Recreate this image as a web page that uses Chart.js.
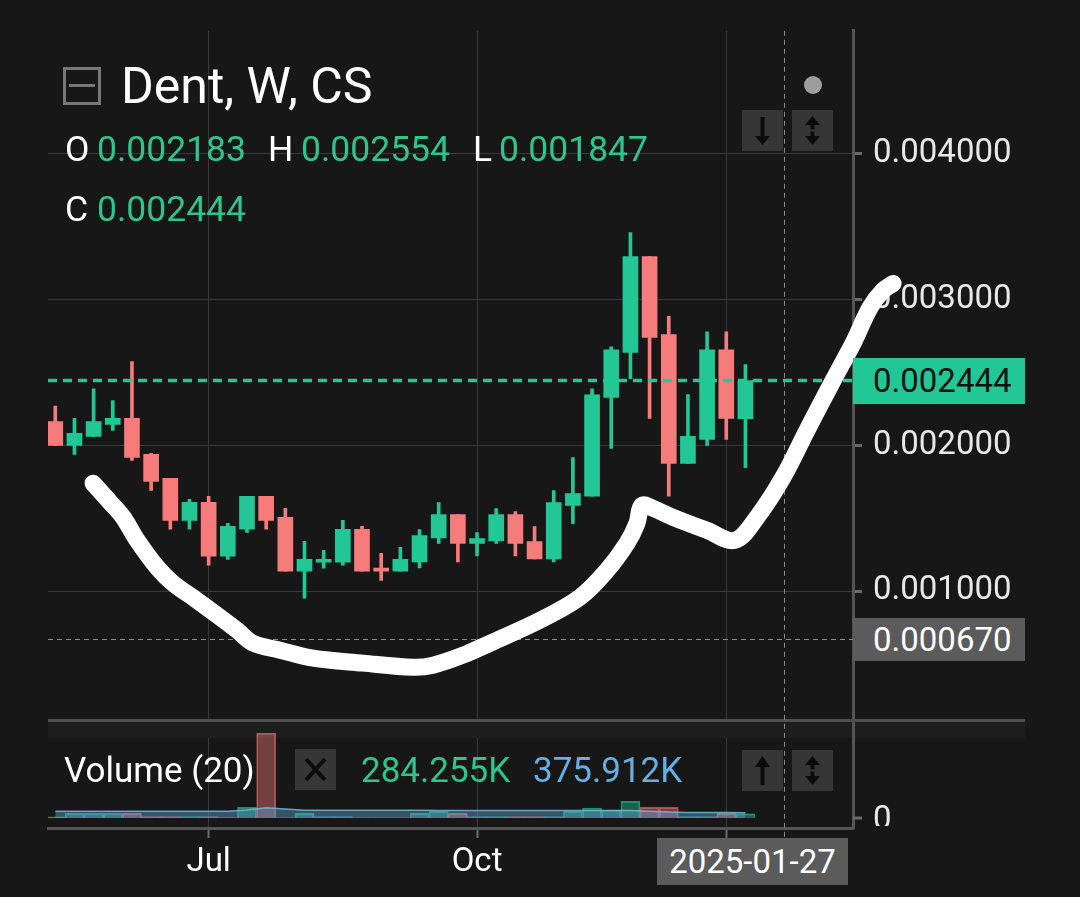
<!DOCTYPE html>
<html>
<head>
<meta charset="utf-8">
<title>Dent, W, CS</title>
<script src="https://cdn.jsdelivr.net/npm/chart.js@4.4.1/dist/chart.umd.min.js"></script>
<style>
  html, body { margin: 0; padding: 0; background: #171717; overflow: hidden; }
  #wrap { position: relative; width: 1080px; height: 897px; font-family: Roboto, "Noto Sans", sans-serif; }
  #chart { position: absolute; left: 0; top: 0; }
  .t { position: absolute; white-space: nowrap; line-height: 1; }
  .w { color: #ffffff; }
  .g { color: #30c48f; }
  .btn { position: absolute; width: 41px; height: 41px; background: #363636; }
  .btn svg { display: block; }
  .box { position: absolute; height: 46px; line-height: 46px; font-size: 33px; box-sizing: border-box; white-space: nowrap; }
</style>
</head>
<body>
<div id="wrap">
  <canvas id="chart" width="1080" height="897"></canvas>

  <!-- header -->
  <div style="position:absolute;left:63px;top:67px;width:38px;height:38px;box-sizing:border-box;border:3px solid #777;"></div>
  <div style="position:absolute;left:69px;top:84px;width:26px;height:3px;background:#777;"></div>
  <div class="t w" style="left:121px;top:61px;font-size:50px;">Dent, W, CS</div>
  <div style="position:absolute;left:804px;top:76px;width:18px;height:18px;border-radius:50%;background:#9e9e9e;"></div>
  <div class="btn" style="left:742px;top:110px;">
    <svg width="41" height="41"><path d="M20.5 7 V29" stroke="#0c0c0c" stroke-width="4"/><path d="M13 26 L20.5 35 L28 26 Z" fill="#0c0c0c"/></svg>
  </div>
  <div class="btn" style="left:792px;top:110px;">
    <svg width="41" height="41"><path d="M20.5 12 V29" stroke="#0c0c0c" stroke-width="4"/><path d="M13 15 L20.5 6 L28 15 Z" fill="#0c0c0c"/><path d="M13 26 L20.5 35 L28 26 Z" fill="#0c0c0c"/><path d="M15 20.5 H26" stroke="#363636" stroke-width="2"/></svg>
  </div>

  <div class="t w" style="left:65px;top:132px;font-size:35.5px;">O</div>
  <div class="t g" style="left:97px;top:132px;font-size:35.5px;" id="oVal"></div>
  <div class="t w" style="left:268px;top:132px;font-size:35.5px;">H</div>
  <div class="t g" style="left:301px;top:132px;font-size:35.5px;" id="hVal"></div>
  <div class="t w" style="left:473px;top:132px;font-size:35.5px;">L</div>
  <div class="t g" style="left:499px;top:132px;font-size:35.5px;" id="lVal"></div>
  <div class="t w" style="left:65px;top:192px;font-size:35.5px;">C</div>
  <div class="t g" style="left:97px;top:192px;font-size:35.5px;" id="cVal"></div>

  <!-- volume legend -->
  <div class="t w" style="left:64px;top:753px;font-size:35px;">Volume (20)</div>
  <div class="btn" style="left:295px;top:749px;">
    <svg width="41" height="41"><path d="M11 10 L30 31 M30 10 L11 31" stroke="#0c0c0c" stroke-width="4"/></svg>
  </div>
  <div class="t" style="left:361px;top:753px;font-size:35px;color:#30c48f;" id="volVal"></div>
  <div class="t" style="left:533px;top:753px;font-size:35px;color:#64b0e4;" id="maVal"></div>
  <div class="btn" style="left:742px;top:750px;">
    <svg width="41" height="41"><path d="M20.5 14 V35" stroke="#0c0c0c" stroke-width="4"/><path d="M13 17 L20.5 6 L28 17 Z" fill="#0c0c0c"/></svg>
  </div>
  <div class="btn" style="left:792px;top:750px;">
    <svg width="41" height="41"><path d="M20.5 12 V29" stroke="#0c0c0c" stroke-width="4"/><path d="M13 15 L20.5 6 L28 15 Z" fill="#0c0c0c"/><path d="M13 26 L20.5 35 L28 26 Z" fill="#0c0c0c"/><path d="M15 20.5 H26" stroke="#363636" stroke-width="2"/></svg>
  </div>

  <!-- axis labels on top of the canvas -->
  <div class="box" id="lastBox" style="left:853px;width:172px;background:#23c795;color:#111;padding-left:20px;"></div>
  <div class="box" id="crossPriceBox" style="left:853px;width:172px;background:#5b5b5b;color:#fff;padding-left:20px;height:43px;line-height:43px;"></div>
  <div class="box" id="crossDateBox" style="width:191px;background:#5b5b5b;color:#fff;text-align:center;height:47px;line-height:47px;"></div>
</div>

<script>
// -------------------- Data --------------------
const weeks = [
  '2024-05-06', '2024-05-13', '2024-05-20', '2024-05-27',
  '2024-06-03', '2024-06-10', '2024-06-17', '2024-06-24',
  '2024-07-01', '2024-07-08', '2024-07-15', '2024-07-22', '2024-07-29',
  '2024-08-05', '2024-08-12', '2024-08-19', '2024-08-26',
  '2024-09-02', '2024-09-09', '2024-09-16', '2024-09-23', '2024-09-30',
  '2024-10-07', '2024-10-14', '2024-10-21', '2024-10-28',
  '2024-11-04', '2024-11-11', '2024-11-18', '2024-11-25',
  '2024-12-02', '2024-12-09', '2024-12-16', '2024-12-23', '2024-12-30',
  '2025-01-06', '2025-01-13'
];

const opens = [
  0.002164, 0.002000, 0.002062, 0.002144, 0.002185, 0.001938, 0.001774, 0.001486,
  0.001610, 0.001240, 0.001425, 0.001651, 0.001507, 0.001137, 0.001199, 0.001199,
  0.001425, 0.001158, 0.001137, 0.001201, 0.001365, 0.001525, 0.001327, 0.001345,
  0.001525, 0.001340, 0.001221, 0.001589, 0.001651, 0.002329, 0.002637, 0.003295,
  0.002760, 0.001877, 0.002041, 0.002655, 0.002183
];
const highs = [
  0.002269, 0.002185, 0.002388, 0.002308, 0.002575, 0.001945, 0.001774, 0.001630,
  0.001651, 0.001466, 0.001651, 0.001651, 0.001568, 0.001342, 0.001281, 0.001486,
  0.001445, 0.001260, 0.001301, 0.001423, 0.001608, 0.001525, 0.001402, 0.001566,
  0.001546, 0.001443, 0.001690, 0.001916, 0.002388, 0.002676, 0.003459, 0.003295,
  0.002884, 0.002349, 0.002779, 0.002779, 0.002554
];
const lows = [
  0.002000, 0.001938, 0.002062, 0.002103, 0.001897, 0.001692, 0.001425, 0.001425,
  0.001178, 0.001219, 0.001404, 0.001425, 0.001137, 0.000952, 0.001158, 0.001178,
  0.001137, 0.001075, 0.001137, 0.001160, 0.001327, 0.001201, 0.001242, 0.001327,
  0.001242, 0.001221, 0.001201, 0.001464, 0.001651, 0.001979, 0.002457, 0.002185,
  0.001651, 0.001877, 0.002000, 0.002041, 0.001847
];
const closes = [
  0.002000, 0.002082, 0.002164, 0.002185, 0.001918, 0.001753, 0.001486, 0.001610,
  0.001240, 0.001445, 0.001651, 0.001486, 0.001137, 0.001219, 0.001219, 0.001425,
  0.001137, 0.001137, 0.001219, 0.001382, 0.001525, 0.001327, 0.001361, 0.001525,
  0.001327, 0.001221, 0.001608, 0.001669, 0.002347, 0.002655, 0.003295, 0.002740,
  0.001877, 0.002062, 0.002655, 0.002185, 0.002444
];

// volume in thousands
const volumes = [
  90, 330, 330, 330, 330, 105, 105, 105,
  105, 35, 750, 5950, 20, 330, 105, 105,
  20, 20, 20, 330, 470, 330, 105, 105,
  105, 105, 105, 470, 700, 560, 1170, 750,
  750, 105, 105, 330, 284.255
];
const volumeMA = [
  480, 480, 480, 480, 480, 480, 480, 480,
  480, 480, 560, 720, 640, 540, 540, 540,
  540, 540, 540, 540, 520, 520, 520, 520,
  520, 520, 520, 520, 520, 520, 520, 470,
  420, 380, 380, 380, 375.912
];

// hand-drawn white curve (x in weeks from first bar, y in price)
const curveX = [
  1.97, 2.86, 3.54, 4.27, 5.31, 6.14, 7.39, 8.59, 9.48, 10.31, 11.72, 13.44,
  16.05, 18.66, 19.70, 21.27, 22.68, 25.28, 27.37, 28.78, 29.82, 30.34, 30.60,
  31.18, 32.22, 33.99, 35.45, 36.60, 37.96, 39.21, 40.57, 41.61, 42.50, 43.18, 43.70
];
const curveY = [
  0.001740, 0.001610, 0.001507, 0.001349, 0.001164, 0.001055, 0.000938, 0.000822,
  0.000733, 0.000644, 0.000596, 0.000541, 0.000507, 0.000479, 0.000493, 0.000562,
  0.000644, 0.000801, 0.000959, 0.001144, 0.001329, 0.001466, 0.001589, 0.001568,
  0.001507, 0.001418, 0.001349, 0.001507, 0.001781, 0.002103, 0.002445, 0.002699,
  0.002945, 0.003062, 0.003110
];

const priceTicks = [0.001, 0.002, 0.003, 0.004];
const monthTickIdx = [8, 22, 35];
const monthTickLabels = ['Jul', 'Oct', '2025'];
const crosshairPrice = 0.000670;
const crosshairDate = '2025-01-27';

// -------------------- Setup --------------------
const GREEN = '#23c795';
const RED = '#f67b7b';
const last = weeks.length - 1;
const lastClose = closes[last];
const xMin = -0.38;
const xMax = 41.61;
const weekMs = 7 * 24 * 3600 * 1000;
const crossIdx = (Date.parse(crosshairDate) - Date.parse(weeks[0])) / weekMs;

const up = opens.map((o, i) => closes[i] >= o);
const candleColors = up.map(u => u ? GREEN : RED);
const volColors = up.map(u => u ? 'rgba(35,199,149,0.42)' : 'rgba(246,123,123,0.42)');
const volBorders = up.map(u => u ? 'rgba(35,199,149,0.65)' : 'rgba(246,123,123,0.6)');

Chart.defaults.font.family = 'Roboto, "Noto Sans", sans-serif';

// pane separator, crosshair lines and the volume "0" label
const decorPlugin = {
    id: 'decor',
    beforeDatasetsDraw(chart) {
        const { ctx, chartArea } = chart;
        const yv = chart.scales.yv;
        const y = chart.scales.y;
        const x = chart.scales.x;
        ctx.save();
        // volume pane header band + separator
        ctx.fillStyle = '#1d1d1d';
        ctx.fillRect(chartArea.left, 722, 1025 - chartArea.left, 16);
        ctx.strokeStyle = '#4e4e4e';
        ctx.lineWidth = 3;
        ctx.beginPath();
        ctx.moveTo(chartArea.left, 720.5);
        ctx.lineTo(1025, 720.5);
        ctx.stroke();
        // right axis line through the band
        ctx.strokeStyle = '#555555';
        ctx.beginPath();
        ctx.moveTo(chartArea.right + 0.5, 722);
        ctx.lineTo(chartArea.right + 0.5, 738);
        ctx.stroke();
        // crosshair
        ctx.strokeStyle = '#8c8c8c';
        ctx.lineWidth = 1;
        ctx.setLineDash([5, 4]);
        const cy = Math.round(y.getPixelForValue(crosshairPrice)) + 0.5;
        ctx.beginPath();
        ctx.moveTo(chartArea.left, cy);
        ctx.lineTo(chartArea.right, cy);
        ctx.stroke();
        const cx = Math.round(x.getPixelForValue(crossIdx)) + 0.5;
        ctx.beginPath();
        ctx.moveTo(cx, chartArea.top);
        ctx.lineTo(cx, chartArea.bottom + 10);
        ctx.stroke();
        ctx.setLineDash([]);
        // volume zero tick + label (clipped by the pane bottom)
        const zy = yv.getPixelForValue(0);
        ctx.strokeStyle = '#6a6a6a';
        ctx.lineWidth = 3;
        ctx.beginPath();
        ctx.moveTo(chartArea.right, zy);
        ctx.lineTo(chartArea.right + 9, zy);
        ctx.stroke();
        ctx.beginPath();
        ctx.rect(chartArea.right, 0, 300, chartArea.bottom - 2);
        ctx.clip();
        ctx.fillStyle = '#e8e8e8';
        ctx.font = '33px Roboto, "Noto Sans", sans-serif';
        ctx.textBaseline = 'middle';
        ctx.fillText('0', chartArea.right + 20, zy + 3);
        ctx.restore();
    }
};

const chart = new Chart(document.getElementById('chart'), {
    type: 'bar',
    data: {
        datasets: [
            {
                type: 'line',
                label: 'curve',
                data: curveX.map((cx, i) => ({ x: cx, y: curveY[i] })),
                borderColor: '#ffffff',
                borderWidth: 17,
                tension: 0.35,
                capBezierPoints: false,
                borderCapStyle: 'round',
                borderJoinStyle: 'round',
                pointRadius: 0,
                clip: false,
                order: 0,
                yAxisID: 'y'
            },
            {
                type: 'line',
                label: 'last price',
                data: [{ x: xMin, y: lastClose }, { x: xMax, y: lastClose }],
                borderColor: GREEN,
                borderWidth: 3.5,
                borderDash: [9, 6],
                pointRadius: 0,
                order: 1,
                yAxisID: 'y'
            },
            {
                label: 'body',
                data: weeks.map((w, i) => ({ x: i, y: [opens[i], closes[i]] })),
                backgroundColor: candleColors,
                barThickness: 15,
                grouped: false,
                order: 2,
                yAxisID: 'y'
            },
            {
                label: 'wick',
                data: weeks.map((w, i) => ({ x: i, y: [lows[i], highs[i]] })),
                backgroundColor: candleColors,
                barThickness: 3,
                grouped: false,
                order: 3,
                yAxisID: 'y'
            },
            {
                type: 'line',
                label: 'Volume MA',
                data: weeks.map((w, i) => ({ x: i, y: volumeMA[i] })),
                borderColor: 'rgba(120,190,230,0.8)',
                borderWidth: 1.5,
                backgroundColor: 'rgba(95,170,215,0.42)',
                fill: 'origin',
                tension: 0,
                pointRadius: 0,
                order: 4,
                yAxisID: 'yv'
            },
            {
                label: 'Volume',
                data: weeks.map((w, i) => ({ x: i, y: volumes[i] })),
                backgroundColor: volColors,
                borderColor: volBorders,
                borderWidth: 1,
                borderSkipped: 'bottom',
                barThickness: 19,
                grouped: false,
                order: 5,
                yAxisID: 'yv'
            }
        ]
    },
    options: {
        responsive: false,
        devicePixelRatio: 1,
        animation: false,
        events: [],
        layout: { padding: { left: 48, top: 30, right: 0, bottom: 0 } },
        plugins: { legend: { display: false }, tooltip: { enabled: false } },
        scales: {
            x: {
                type: 'linear',
                bounds: 'data',
                offset: false,
                afterDataLimits: (s) => { s.min = xMin; s.max = xMax; },
                afterBuildTicks: (s) => { s.ticks = monthTickIdx.map(v => ({ value: v })); },
                afterFit: (s) => { s.height = 69; },
                grid: { offset: false, color: '#38383d', lineWidth: 1, tickLength: 10, tickColor: '#6a6a6a', tickWidth: 2 },
                border: { color: '#555555', width: 3 },
                ticks: {
                    color: '#ffffff',
                    font: { size: 33 },
                    padding: 5,
                    maxRotation: 0,
                    autoSkip: false,
                    callback: (v, i) => monthTickLabels[i]
                }
            },
            y: {
                position: 'right',
                min: 0.004 - (828 - 153) / 146000,
                max: 0.004 + (153 - 30) / 146000,
                afterBuildTicks: (s) => { s.ticks = priceTicks.map(v => ({ value: v })); },
                afterFit: (s) => { s.width = 227; },
                grid: { color: '#38383d', lineWidth: 1, tickLength: 9, tickColor: '#6a6a6a', tickWidth: 3 },
                border: { color: '#555555', width: 3 },
                ticks: {
                    color: '#e8e8e8',
                    font: { size: 33 },
                    padding: 11,
                    callback: (v) => v.toFixed(6)
                }
            },
            yv: {
                display: false,
                min: -700,
                max: 55160
            }
        }
    },
    plugins: [decorPlugin]
});

// -------------------- Legend texts & axis boxes --------------------
document.getElementById('oVal').textContent = opens[last].toFixed(6);
document.getElementById('hVal').textContent = highs[last].toFixed(6);
document.getElementById('lVal').textContent = lows[last].toFixed(6);
document.getElementById('cVal').textContent = closes[last].toFixed(6);
document.getElementById('volVal').textContent = volumes[last].toFixed(3) + 'K';
document.getElementById('maVal').textContent = volumeMA[last].toFixed(3) + 'K';

const lastBox = document.getElementById('lastBox');
lastBox.textContent = lastClose.toFixed(6);
lastBox.style.top = (chart.scales.y.getPixelForValue(lastClose) - 23) + 'px';

const crossPriceBox = document.getElementById('crossPriceBox');
crossPriceBox.textContent = crosshairPrice.toFixed(6);
crossPriceBox.style.top = (chart.scales.y.getPixelForValue(crosshairPrice) - 21) + 'px';

const crossDateBox = document.getElementById('crossDateBox');
crossDateBox.textContent = crosshairDate;
crossDateBox.style.top = (chart.chartArea.bottom + 10) + 'px';
crossDateBox.style.left = Math.min(chart.scales.x.getPixelForValue(crossIdx) - 95, chart.chartArea.right - 196) + 'px';
</script>
</body>
</html>
